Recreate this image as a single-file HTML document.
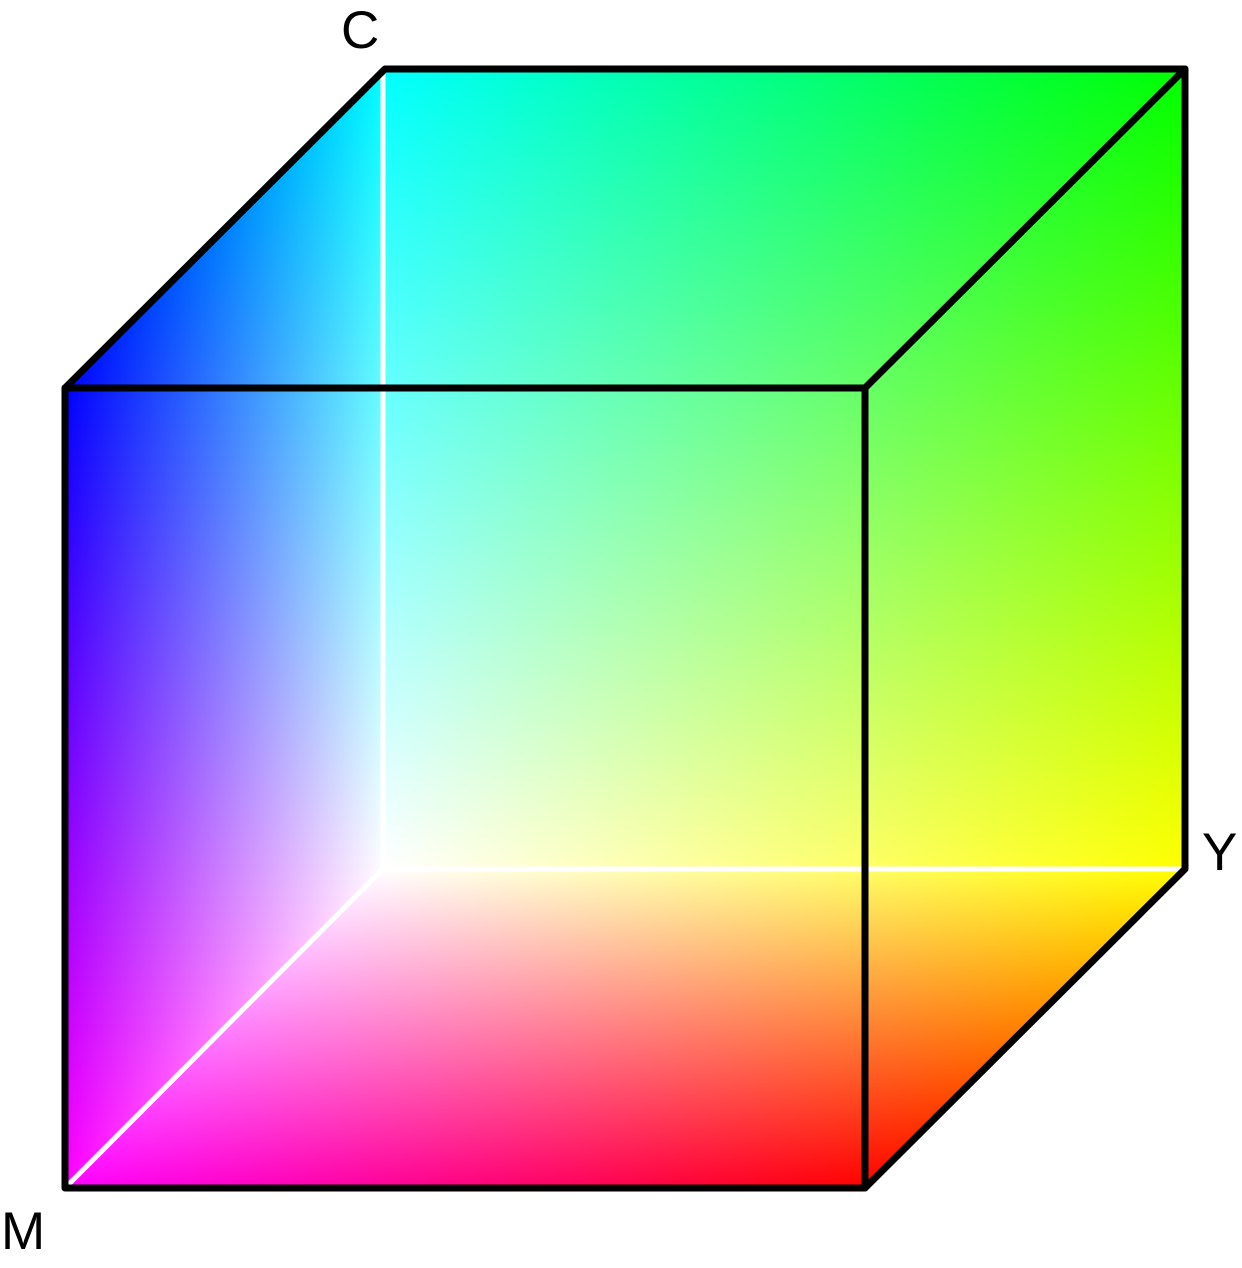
<!DOCTYPE html>
<html><head><meta charset="utf-8"><style>
html,body{margin:0;padding:0;background:#fff;width:1242px;height:1268px;overflow:hidden}
svg{display:block}
text{font-family:"Liberation Sans",sans-serif;font-size:53px;fill:#000}
.mul{mix-blend-mode:multiply}
</style></head><body>
<svg width="1242" height="1268" viewBox="0 0 1242 1268">
<defs>
<linearGradient id="gC" x1="0" y1="0" x2="1" y2="0"><stop offset="0" stop-color="#fff"/><stop offset="1" stop-color="#0ff"/></linearGradient>
<linearGradient id="gMv" x1="0" y1="0" x2="0" y2="1"><stop offset="0" stop-color="#fff"/><stop offset="1" stop-color="#f0f"/></linearGradient>
<linearGradient id="gYv" x1="0" y1="0" x2="0" y2="1"><stop offset="0" stop-color="#fff"/><stop offset="1" stop-color="#ff0"/></linearGradient>
<linearGradient id="gYh" x1="0" y1="0" x2="1" y2="0"><stop offset="0" stop-color="#fff"/><stop offset="1" stop-color="#ff0"/></linearGradient>
</defs>
<g style="isolation:isolate" transform="matrix(0,-800,800,0,385,869)">
<rect x="0" y="0" width="1" height="1" fill="url(#gC)"/>
<rect class="mul" x="0" y="0" width="1" height="1" fill="url(#gYv)"/>
</g>
<g style="isolation:isolate" transform="matrix(0,-800,-320,320,385,869)">
<rect x="0" y="0" width="1" height="1" fill="url(#gC)"/>
<rect class="mul" x="0" y="0" width="1" height="1" fill="url(#gMv)"/>
</g>
<g style="isolation:isolate" transform="matrix(800,0,-320,320,385,869)">
<rect x="0" y="0" width="1" height="1" fill="url(#gYh)"/>
<rect class="mul" x="0" y="0" width="1" height="1" fill="url(#gMv)"/>
</g>
<g stroke="#fff" stroke-width="5" stroke-linecap="round">
<line x1="383" y1="869" x2="383" y2="72"/>
<line x1="383" y1="869" x2="1182" y2="869"/>
<line x1="383" y1="869" x2="68" y2="1185"/>
</g>
<g stroke="#000" stroke-width="7" fill="none" stroke-linejoin="round" stroke-linecap="round">
<rect x="65" y="388" width="800" height="800"/>
<polyline points="65,388 385,69 1185,69 1185,869 865,1188"/>
<line x1="1185" y1="69" x2="865" y2="388"/>
</g>
<text x="341" y="48">C</text>
<text x="1202" y="870">Y</text>
<text x="1" y="1249">M</text>
</svg>
</body></html>
